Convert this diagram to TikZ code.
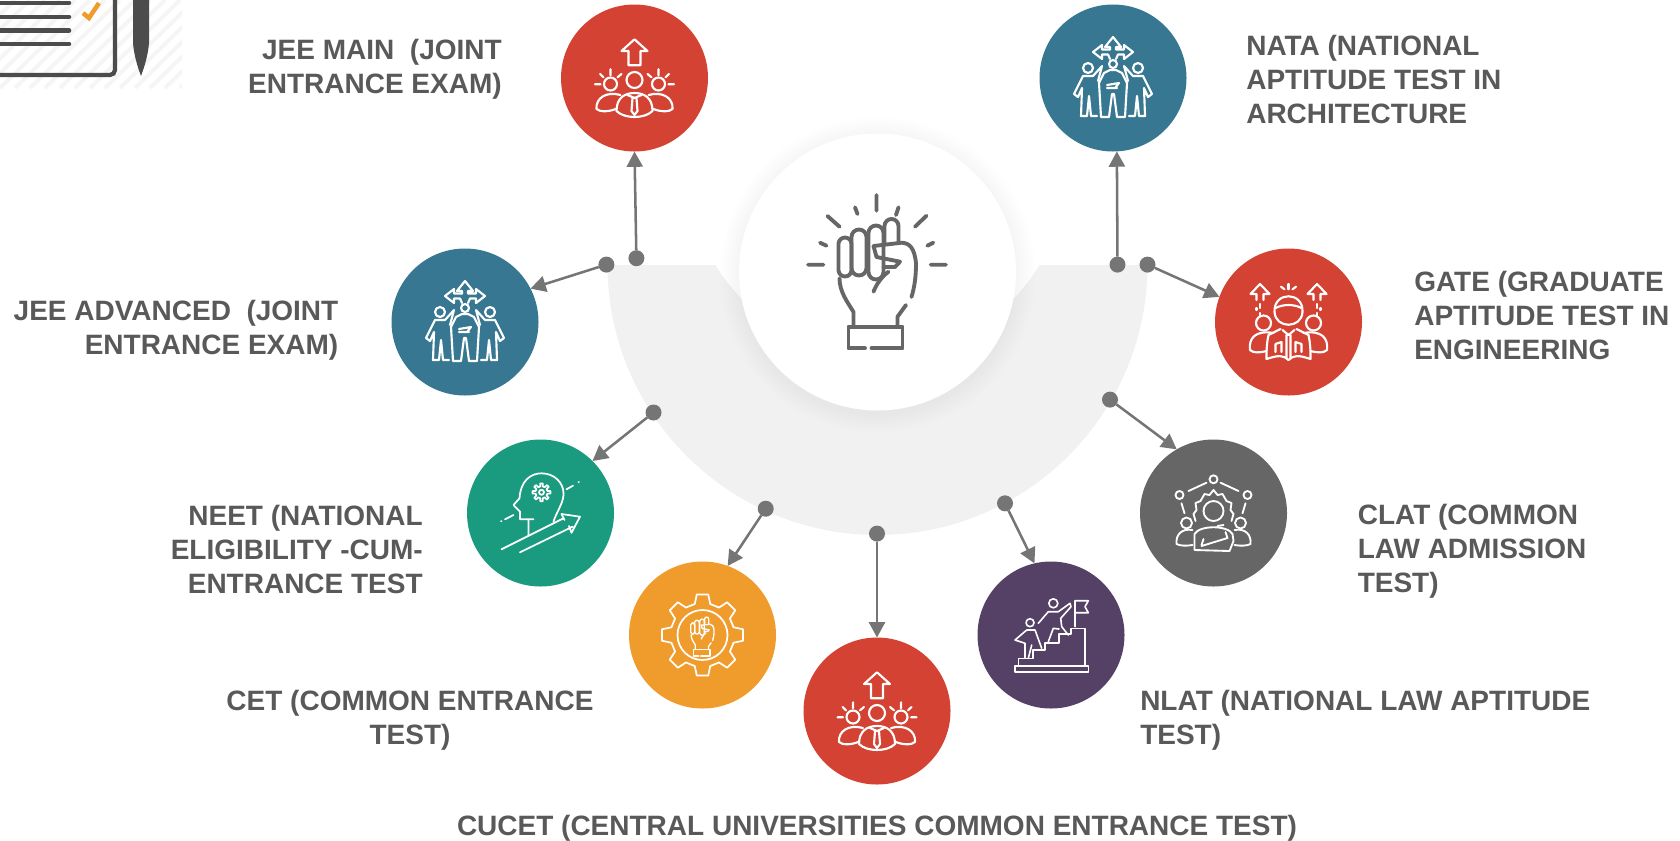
\documentclass[tikz,border=0pt]{standalone}
\usepackage{fontspec}
\setmainfont{Liberation Sans}
\usetikzlibrary{arrows.meta}
\definecolor{cRed}{HTML}{D34232}
\definecolor{cBlue}{HTML}{377791}
\definecolor{cGreen}{HTML}{1A9B7F}
\definecolor{cOrange}{HTML}{F09C2C}
\definecolor{cPurple}{HTML}{554165}
\definecolor{cGrey}{HTML}{666666}
\definecolor{cText}{HTML}{595959}
\definecolor{cLine}{HTML}{757575}
\definecolor{cBand}{HTML}{F1F1F1}
\tikzset{
  team/.pic={
    \draw (-6,12.7) -- (-6,27) -- (-13,27) -- (0,38.7) -- (13,27) -- (6,27) -- (6,12.7) -- cycle;
    \draw (0,-2) circle[radius=8];
    \foreach \s in {-1,1} {
      \draw (\s*24,-6) circle[radius=6.5];
      \draw (\s*24,8.7) -- (\s*24,2.7) (\s*34.5,4) -- (\s*31,.7) (\s*39.5,-6.3) -- (\s*34,-6.3) (\s*17,.7) -- (\s*13,4);
      \draw (\s*14,-17) .. controls (\s*28,-13) and (\s*39,-20) .. (\s*38,-31) .. controls (\s*35,-34) and (\s*26,-34) .. (\s*19,-31);
    }
    \draw (-18,-33) .. controls (-18,-20) and (-10,-15) .. (0,-15) .. controls (10,-15) and (18,-20) .. (18,-33) .. controls (10,-41) and (-10,-41) .. (-18,-33) -- cycle;
    \draw (-2,-20) -- (2,-20) -- (3,-33) -- (0,-37) -- (-3,-33) -- cycle;
    \draw (-7,-17) -- (0,-20) -- (7,-17);
  },
  crew/.pic={
    \draw (-3,28.5) -- (-3,31) -- (-8,31) -- (0,41) -- (8,31) -- (3,31) -- (3,28.5) -- (11,28.5) -- (11,33) -- (20,26) -- (11,19) -- (11,23.5) -- (5,23.5) -- (3,19);
    \draw (-3,28.5) -- (-11,28.5) -- (-11,33) -- (-20,26) -- (-11,19) -- (-11,23.5) -- (-5,23.5) -- (-3,19);
    \draw (0,14) circle[radius=4];
    \draw (-14,-5) -- (-9,5) -- (-3,8) -- (3,8) -- (9,5) -- (14,-5) -- (12,-39) -- (4,-39) -- (1,-16) -- (-1,-16) -- (-4,-39) -- (-12,-39) -- cycle;
    \draw (-6,-7) -- (6,-5) -- (2,-10) (-6,-10) -- (4,-10);
    \foreach \s in {-1,1} {
      \draw (\s*25,10) circle[radius=5];
      \draw (\s*11,12) -- (\s*15,-3) (\s*11,12) -- (\s*20,2) -- (\s*30,2) -- (\s*39,-16) -- (\s*35,-19) -- (\s*31,-10) -- (\s*32,-38) -- (\s*26,-38) -- (\s*24,-18) -- (\s*22,-38) -- (\s*16,-38);
    }
  },
  lead/.pic={
    \foreach \s in {-1,1} {
      \draw (\s*25,22) -- (\s*25,28) -- (\s*19,28) -- (\s*28.5,38) -- (\s*38,28) -- (\s*32,28) -- (\s*32,22);
      \draw (\s*28.5,18) -- (\s*28.5,14) (\s*28.5,9) -- (\s*28.5,6) (\s*32,14) -- (\s*32,12);
      \draw (\s*7.5,35.3) -- (\s*4,32.7);
      \draw (\s*25,-1) circle[radius=7.5];
      \draw (\s*15,-11) .. controls (\s*33,-8) and (\s*40,-16) .. (\s*38.5,-28) .. controls (\s*35,-31) and (\s*30,-31) .. (\s*22,-29);
    }
    \draw (0,38) -- (0,32.7);
    \draw (-14,10) .. controls (-15,31) and (15,31) .. (14,10) .. controls (13,-7) and (-13,-7) .. (-14,10) -- cycle;
    \draw (-13,14) .. controls (-5,18) and (5,18) .. (13,14);
    \draw (-8,-7) -- (-20,-13) .. controls (-22,-22) and (-22,-30) .. (-22,-37) .. controls (-10,-33) and (-5,-33) .. (0,-38) .. controls (5,-33) and (10,-33) .. (22,-37) .. controls (22,-30) and (22,-22) .. (20,-13) -- (8,-7);
    \draw (-6,-8) -- (0,-13) -- (6,-8) (-2,-13) -- (-2,-36) (2,-13) -- (2,-36);
    \draw (-13,-30) -- (-13,-22) -- (-7,-20) -- (-7,-30) (13,-30) -- (13,-22) -- (7,-20) -- (7,-30);
  },
  brain/.pic={
    \draw (-12,-22) -- (-12,-6.3) (-7,-6.3) -- (-20.5,-6.3) -- (-20.5,1.3) -- (-27,8) -- (-21,14.7) .. controls (-20,32) and (-10,39.7) .. (1,39.7) .. controls (14,39.7) and (23,30) .. (23,19.7) .. controls (23,12) and (20,8) .. (18,3) .. controls (16,-1) and (14,-5) .. (13,-8.7);
    \begin{scope}[shift={(1,20.7)}]
      \draw (0,0) circle[radius=2.5];
      \draw (-13:6) \foreach \a in {0,45,...,315} { -- (\a-13:6) -- (\a-8:9) -- (\a+8:9) -- (\a+13:6) } -- cycle;
    \end{scope}
    \draw (26,23.7) -- (32.5,27.3) (38,30.7) -- (38.4,31) (-27,-2) -- (-35.5,-6.3) (-39,-8) -- (-39.4,-8.3);
    \draw (-39,-36.3) -- (23,-5.3) (21,-1) -- (39.5,-3.7) -- (31,-19.7) (-20.5,-39.3) -- (32,-13.7);
    \draw (21,-1) -- (24,-7) (31,-19.7) -- (28.5,-13);
  },
  fist/.pic={
    \foreach \a/\b/\c/\e in {-39/-26/28/2,-26/-11/35/4,-9/6/39/0} {
      \draw (\a,\e) -- (\a,\c) arc[start angle=180,end angle=0,radius={(\b-(\a))/2}] -- (\b,\e) arc[start angle=0,end angle=-180,radius={(\b-(\a))/2}] -- cycle;
    }
    \draw (7,29) -- (7,46) arc[start angle=180,end angle=0,radius=7] -- (21,29);
    \draw (-4,26) -- (24.2,29.3) .. controls (32,29) and (37,24) .. (38.5,8.7) .. controls (38.5,-5) and (37,-15) .. (34,-25);
    \draw (-4,26) -- (-1,15) -- (22.5,10.3) -- (17.5,5) -- (6,5);
    \draw (11,.3) .. controls (4,-5) and (-1,-12) .. (-4,-19.7);
    \draw (-38,-6.3) .. controls (-38,-20) and (-30,-30) .. (-24,-40) -- (-24,-54.7);
    \draw (28.5,-33) -- (20,-44.7) -- (20,-54.7);
    \draw (-12.5,-76.3) -- (-29,-76.3) -- (-29,-54.7) -- (25,-54.7) -- (25,-76.3) -- (-6,-76.3);
  },
  rays/.pic={
    \draw (-1,77) -- (-1,61.3) (-22.5,64.7) -- (-20,58) (-50,56) -- (-38,45.3) (21,64.7) -- (18.5,57) (49,56.3) -- (37.5,45.3);
    \draw (-57.5,29.3) -- (-51,26.3) (55.8,29.3) -- (49.8,26.3) (-69.5,7.3) -- (-54,7.3) (53.2,7.3) -- (68.5,7.3);
  },
  gear/.pic={
    \draw (-14:32) \foreach \a in {0,45,...,315} { -- (\a-14:32) -- (\a-8:41) -- (\a+8:41) -- (\a+14:32) } -- cycle;
    \draw (0,0) circle[radius=25];
  },
  steps/.pic={
    \draw (-36,-31) rectangle (37.3,-36.7);
    \draw (-32.7,-31) -- (-32.7,-23.3) -- (-18,-23.3) -- (-18,-15) -- (-6,-15) -- (-6,-8) -- (8,-8) -- (8,1) -- (20,1) -- (20,6.7) -- (34,6.7) -- (34,-31);
    \draw (24,8.3) -- (24,34.3) -- (37.3,34.3) -- (34,28.3) -- (37.3,22.3) -- (24,22.3);
    \draw (2.3,31.7) circle[radius=4.5] (-21,12.3) circle[radius=4];
    \draw (-12.7,11.7) -- (-2.7,23.3) -- (7.3,23.3) -- (19,31.7) -- (20,28.3) -- (9.7,16.7) -- (10.7,8.3) -- (17.3,0) (2.3,6.7) -- (-2.7,-6.7) (2.3,6.7) -- (8,6);
    \draw (-36,-5) -- (-24.3,5) -- (-16,5) -- (-9.3,-13.3) (-19.3,-10) -- (-22.7,-23.3) (-26,-23.3) -- (-26,-8.3) -- (-36,-5);
  },
  net/.pic={
    \draw (0,33.7) circle[radius=4] (-34,18) circle[radius=4] (34,18) circle[radius=4];
    \draw (-25,22) -- (-7,30.3) (25,22) -- (7,30.3) (-32,9.7) -- (-29,-.3) (32,9.7) -- (29,-.3);
    \draw (-18,-8) -- (-20,-1) -- (-17,3) -- (-18,10) -- (-13,12) -- (-9,19) -- (-4,18) -- (0,23) -- (4,18) -- (9,19) -- (13,12) -- (18,10) -- (17,3) -- (20,-1) -- (18,-8);
    \draw (0,2) circle[radius=10];
    \draw (-27,-10) circle[radius=5.5] (27,-10) circle[radius=5.5];
    \draw (-19,-37) -- (-19,-21) .. controls (-14,-12) and (14,-12) .. (19,-21) -- (20,-28) -- (16,-38) -- cycle;
    \draw (-12,-32) -- (-10,-26) (-12,-33) -- (14,-25) -- (12,-19) (4,-13) -- (10,-12);
    \foreach \s in {-1,1} {
      \draw (\s*21,-17) .. controls (\s*32,-15) and (\s*38,-22) .. (\s*37,-31) .. controls (\s*33,-33) and (\s*27,-33) .. (\s*21,-32);
    }
  }
}
\begin{document}
\begin{tikzpicture} [
   x=.75pt, y=.75pt,
   n/.style={circle,minimum size=110.25pt,inner sep=0pt,outer sep=0pt},
   d/.style={circle,fill=cLine,minimum size=12pt,inner sep=0pt,outer sep=0pt},
   t/.style={text=cText,inner sep=0pt,font=\fontsize{21}{25.5}\selectfont\bfseries},
   ic/.style={white,line width=1.6pt,line cap=round,line join=round},
   bk/.style={cGrey,line width=2.9pt,line cap=round,line join=round},
   con/.style={->,>={Triangle[length=11.5pt,width=12pt]},draw=cLine,line width=1.9pt}
]
   \useasboundingbox (0,0) rectangle (1680,-840);
   \begin{scope}
      \clip (0,0) rectangle (182,-88);
      \foreach \i in {0,15,...,270} \draw[line width=3pt,color=black!4] (\i-90,-88) -- (\i,0);
   \end{scope}
   \draw[line width=3.2pt,color=black!70] (115,0) -- (115,-70) arc[start angle=0,end angle=-90,radius=5] -- (0,-75);
   \foreach \i in {3,17,30.5,44} \draw[line width=3.4pt,color=black!70,line cap=round] (0,-\i) -- (69,-\i);
   \draw[line width=3.4pt,color=cOrange] (83,-13) -- (89,-18) -- (99,-3);
   \fill[black!70] (133,0) -- (149,0) -- (149,-43) .. controls (148,-55) and (145,-65) .. (141,-76) .. controls (137,-65) and (134,-55) .. (133,-43) -- cycle;

   \fill[cBand] (607.5,-265) arc[start angle=180,end angle=360,radius=270] -- (1039.5,-265) arc[start angle=-31,end angle=-149,radius=189] -- cycle;
   \foreach \r in {2,4,...,20} \fill[black,opacity=.005] (877.5,-275) circle[radius=138+\r];
   \node (hub) [circle,fill=white,minimum size=207.75pt,inner sep=0pt] at (877.5,-272) {};
   \pic[bk] at (hub) {fist};
   \pic[bk] at (hub) {rays};

   \node (jm) [n,fill=cRed] at (634.5,-78) {};
   \node (na) [n,fill=cBlue] at (1113,-78) {};
   \node (ga) [n,fill=cRed] at (1288.5,-322) {};
   \node (ja) [n,fill=cBlue] at (465,-322) {};
   \node (ne) [n,fill=cGreen] at (540.5,-513) {};
   \node (ce) [n,fill=cOrange] at (702.5,-635) {};
   \node (cu) [n,fill=cRed] at (877,-711) {};
   \node (nl) [n,fill=cPurple] at (1051,-635) {};
   \node (cl) [n,fill=cGrey] at (1213.5,-513) {};
   \pic[ic] at (jm) {team};
   \pic[ic] at (cu) {team};
   \pic[ic] at (na) {crew};
   \pic[ic] at (ja) {crew};
   \pic[ic] at (ga) {lead};
   \pic[ic,line width=1.3pt] at (ne) {brain};
   \pic[ic,line width=1.3pt] at (ce) {gear};
   \pic[ic,line width=1pt,scale=.3] at ([yshift=1.5pt]ce.center) {fist};
   \pic[ic,line width=1.2pt] at (nl) {steps};
   \pic[ic,line width=1.4pt] at (cl) {net};

   \node (d1) [d] at (636.4,-258.2) {};
   \node (d2) [d] at (1117.5,-264.6) {};
   \node (d3) [d] at (1147.5,-264.6) {};
   \node (d4) [d] at (606.4,-264.6) {};
   \node (d5) [d] at (653.5,-412.5) {};
   \node (d6) [d] at (765.7,-508.7) {};
   \node (d7) [d] at (877,-533.6) {};
   \node (d8) [d] at (1005,-503.3) {};
   \node (d9) [d] at (1110,-399.6) {};
   \foreach \a/\b in {d1/jm.south,d2/na.-87,d3/ga.160,d4/ja.27,d5/ne.45,d6/ce.70,d7/cu.north,d8/nl.103,d9/cl.120}
      \draw[con] (\a) -- (\b);

   \node (tjm) [t,align=right,anchor=east] at (502,-69) {JEE MAIN ~(JOINT\\ENTRANCE EXAM)};
   \node (tna) [t,align=left,anchor=west] at (1246,-79) {NATA (NATIONAL\\APTITUDE TEST IN\\ARCHITECTURE};
   \node (tga) [t,align=left,anchor=west] at (1414,-315) {GATE (GRADUATE\\APTITUDE TEST IN\\ENGINEERING};
   \node (tja) [t,align=right,anchor=east] at (338.6,-330.5) {JEE ADVANCED ~(JOINT\\ENTRANCE EXAM)};
   \node (tne) [t,align=right,anchor=east] at (423,-549) {NEET (NATIONAL\\ELIGIBILITY -CUM-\\ENTRANCE TEST};
   \node (tce) [t,align=center] at (410,-720) {CET (COMMON ENTRANCE\\TEST)};
   \node (tcu) [t] at (877,-828) {CUCET (CENTRAL UNIVERSITIES COMMON ENTRANCE TEST)};
   \node (tnl) [t,align=left,anchor=west] at (1140,-720) {NLAT (NATIONAL LAW APTITUDE\\TEST)};
   \node (tcl) [t,align=left,anchor=west] at (1357.5,-551.5) {CLAT (COMMON\\LAW ADMISSION\\TEST)};
\end{tikzpicture}
\end{document}
